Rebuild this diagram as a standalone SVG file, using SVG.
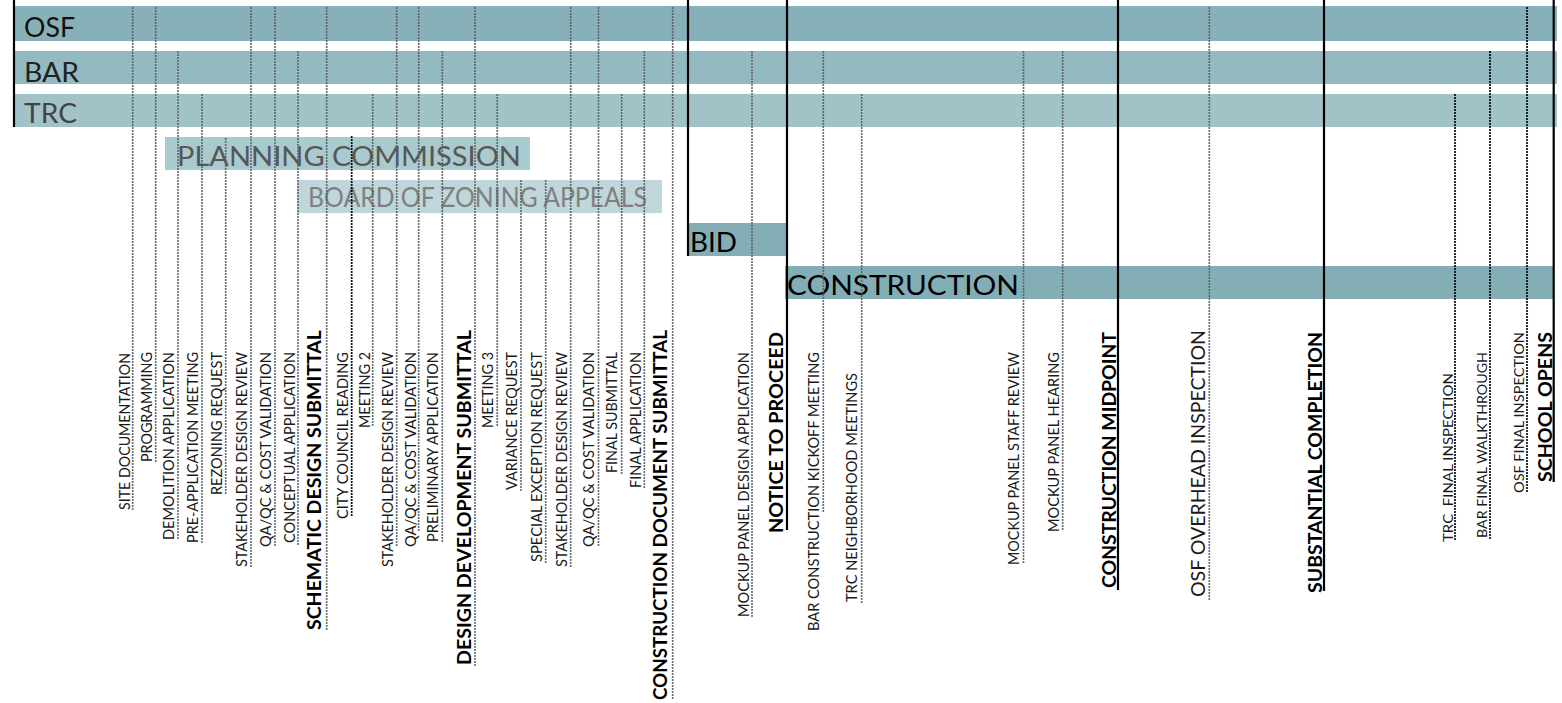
<svg xmlns="http://www.w3.org/2000/svg" width="1562" height="703" viewBox="0 0 1562 703">
<style>
.bg{fill:#ffffff}
.osf{fill:#87b0b8}
.bar{fill:#94bac1}
.trc{fill:#a1c3c8}
.pc{fill:#a9cacf}
.bza{fill:#bfd7db}
.bid{fill:#84aeb6}
.con{fill:#84aeb6}
.hd{font-family:Lato,"Liberation Sans",sans-serif;font-size:26px}
.lbl{font-family:Lato,"Liberation Sans",sans-serif;font-size:15px;fill:#1a1a1a}
.lblb{font-family:Lato,"Liberation Sans",sans-serif;font-size:19px;font-weight:700;fill:#000}
.lbls{font-family:Lato,"Liberation Sans",sans-serif;font-size:14px;fill:#1a1a1a}
.lblm{font-family:Lato,"Liberation Sans",sans-serif;font-size:19px;fill:#1a1a1a}
.dot{stroke:#5e5e5e;stroke-width:2;stroke-dasharray:0 3;stroke-linecap:round;fill:none}
.dotk{stroke:#000;stroke-width:2.2;stroke-dasharray:0 3;stroke-linecap:round;fill:none}
.solid{stroke:#000;stroke-width:2.2;fill:none}
</style>
<rect class="bg" x="0" y="0" width="1562" height="703"/>
<g id="lanes">
<g id="lane-osf"><rect class="osf" x="14" y="6" width="1543" height="35"/><text class="hd" x="24" y="37" fill="#111" textLength="51" lengthAdjust="spacingAndGlyphs">OSF</text></g>
<g id="lane-bar"><rect class="bar" x="14" y="51" width="1543" height="33"/><text class="hd" x="24" y="81.5" fill="#222" textLength="55" lengthAdjust="spacingAndGlyphs">BAR</text></g>
<g id="lane-trc"><rect class="trc" x="14" y="94" width="1543" height="33"/><text class="hd" x="24" y="122.5" fill="#444" textLength="53" lengthAdjust="spacingAndGlyphs">TRC</text></g>
<g id="lane-pc"><rect class="pc" x="165" y="137" width="365" height="33"/><text class="hd" x="177" y="166" font-size="27" fill="#575757" textLength="344" lengthAdjust="spacingAndGlyphs">PLANNING COMMISSION</text></g>
<g id="lane-bza"><rect class="bza" x="297" y="180" width="365" height="33"/><text class="hd" x="308" y="207" font-size="25" fill="#808080" textLength="339" lengthAdjust="spacingAndGlyphs">BOARD OF ZONING APPEALS</text></g>
<g id="lane-bid"><rect class="bid" x="688" y="223" width="98" height="33"/><text class="hd" x="690" y="252" font-size="25" fill="#000" textLength="47" lengthAdjust="spacingAndGlyphs">BID</text></g>
<g id="lane-construction"><rect class="con" x="785" y="266" width="769" height="33"/><text class="hd" x="787" y="295" font-size="27" fill="#000" textLength="232" lengthAdjust="spacingAndGlyphs">CONSTRUCTION</text></g>
</g>
<g id="connectors">
<line class="solid" x1="14" y1="0" x2="14" y2="127"/>
<line class="solid" x1="688" y1="0" x2="688" y2="256"/>
<line class="solid" x1="787" y1="0" x2="787" y2="530"/>
<line class="solid" x1="1118" y1="0" x2="1118" y2="590"/>
<line class="solid" x1="1324" y1="0" x2="1324" y2="591"/>
<line class="solid" x1="1553.7" y1="0" x2="1553.7" y2="482"/>
<line class="dot" x1="132.7" y1="8" x2="132.7" y2="510"/>
<line class="dot" x1="155.7" y1="8" x2="155.7" y2="462"/>
<line class="dot" x1="178" y1="52" x2="178" y2="540"/>
<line class="dot" x1="202" y1="95" x2="202" y2="543"/>
<line class="dot" x1="225.7" y1="139" x2="225.7" y2="496"/>
<line class="dot" x1="251" y1="8" x2="251" y2="567"/>
<line class="dot" x1="275" y1="8" x2="275" y2="547"/>
<line class="dot" x1="298" y1="52" x2="298" y2="545"/>
<line class="dot" x1="326.7" y1="8" x2="326.7" y2="630"/>
<line class="dotk" x1="351.7" y1="137" x2="351.7" y2="517"/>
<line class="dot" x1="372.7" y1="95" x2="372.7" y2="428"/>
<line class="dot" x1="396.7" y1="8" x2="396.7" y2="547"/>
<line class="dot" x1="418.7" y1="8" x2="418.7" y2="533"/>
<line class="dot" x1="442.3" y1="52" x2="442.3" y2="542"/>
<line class="dot" x1="475" y1="8" x2="475" y2="668"/>
<line class="dot" x1="497.2" y1="95" x2="497.2" y2="428"/>
<line class="dot" x1="521" y1="181" x2="521" y2="492"/>
<line class="dot" x1="545.7" y1="181" x2="545.7" y2="563"/>
<line class="dot" x1="570.7" y1="8" x2="570.7" y2="568"/>
<line class="dot" x1="598.5" y1="8" x2="598.5" y2="547"/>
<line class="dot" x1="621.7" y1="95" x2="621.7" y2="475"/>
<line class="dot" x1="644.3" y1="52" x2="644.3" y2="488"/>
<line class="dot" x1="672.7" y1="8" x2="672.7" y2="700"/>
<line class="dot" x1="752" y1="52" x2="752" y2="618"/>
<line class="dot" x1="823.3" y1="52" x2="823.3" y2="512"/>
<line class="dot" x1="861.7" y1="95" x2="861.7" y2="605"/>
<line class="dot" x1="1023.5" y1="52" x2="1023.5" y2="565"/>
<line class="dot" x1="1062.7" y1="52" x2="1062.7" y2="532"/>
<line class="dot" x1="1209.3" y1="8" x2="1209.3" y2="600"/>
<line class="dotk" x1="1455" y1="95" x2="1455" y2="542"/>
<line class="dotk" x1="1490" y1="52" x2="1490" y2="539"/>
<line class="dotk" x1="1527" y1="8" x2="1527" y2="493"/>
</g>
<g id="milestones">
<g id="m01"><text class="lbl" transform="translate(129.5,510) rotate(-90)" textLength="157" lengthAdjust="spacingAndGlyphs">SITE DOCUMENTATION</text></g>
<g id="m02"><text class="lbl" transform="translate(152,462) rotate(-90)" textLength="110" lengthAdjust="spacingAndGlyphs">PROGRAMMING</text></g>
<g id="m03"><text class="lbl" transform="translate(174.3,540) rotate(-90)" textLength="188" lengthAdjust="spacingAndGlyphs">DEMOLITION APPLICATION</text></g>
<g id="m04"><text class="lbl" transform="translate(198,543) rotate(-90)" textLength="191" lengthAdjust="spacingAndGlyphs">PRE-APPLICATION MEETING</text></g>
<g id="m05"><text class="lbl" transform="translate(222,495) rotate(-90)" textLength="143" lengthAdjust="spacingAndGlyphs">REZONING REQUEST</text></g>
<g id="m06"><text class="lbl" transform="translate(247,567) rotate(-90)" textLength="215" lengthAdjust="spacingAndGlyphs">STAKEHOLDER DESIGN REVIEW</text></g>
<g id="m07"><text class="lbl" transform="translate(271,547) rotate(-90)" textLength="195" lengthAdjust="spacingAndGlyphs">QA/QC &amp; COST VALIDATION</text></g>
<g id="m08"><text class="lbl" transform="translate(295,543) rotate(-90)" textLength="191" lengthAdjust="spacingAndGlyphs">CONCEPTUAL APPLICATION</text></g>
<g id="m09"><text class="lblb" transform="translate(320.7,630) rotate(-90)" textLength="300" lengthAdjust="spacingAndGlyphs">SCHEMATIC DESIGN SUBMITTAL</text></g>
<g id="m10"><text class="lbl" transform="translate(348,519) rotate(-90)" textLength="167" lengthAdjust="spacingAndGlyphs">CITY COUNCIL READING</text></g>
<g id="m11"><text class="lbl" transform="translate(370,428) rotate(-90)" textLength="76" lengthAdjust="spacingAndGlyphs">MEETING 2</text></g>
<g id="m12"><text class="lbl" transform="translate(393,567) rotate(-90)" textLength="215" lengthAdjust="spacingAndGlyphs">STAKEHOLDER DESIGN REVIEW</text></g>
<g id="m13"><text class="lbl" transform="translate(416,547) rotate(-90)" textLength="195" lengthAdjust="spacingAndGlyphs">QA/QC &amp; COST VALIDATION</text></g>
<g id="m14"><text class="lbl" transform="translate(438.3,542) rotate(-90)" textLength="190" lengthAdjust="spacingAndGlyphs">PRELIMINARY APPLICATION</text></g>
<g id="m15"><text class="lblb" transform="translate(470.7,665) rotate(-90)" textLength="335" lengthAdjust="spacingAndGlyphs">DESIGN DEVELOPMENT SUBMITTAL</text></g>
<g id="m16"><text class="lbl" transform="translate(493.3,428) rotate(-90)" textLength="76" lengthAdjust="spacingAndGlyphs">MEETING 3</text></g>
<g id="m17"><text class="lbl" transform="translate(516.7,490) rotate(-90)" textLength="138" lengthAdjust="spacingAndGlyphs">VARIANCE REQUEST</text></g>
<g id="m18"><text class="lbl" transform="translate(541.7,562) rotate(-90)" textLength="210" lengthAdjust="spacingAndGlyphs">SPECIAL EXCEPTION REQUEST</text></g>
<g id="m19"><text class="lbl" transform="translate(566.7,567) rotate(-90)" textLength="215" lengthAdjust="spacingAndGlyphs">STAKEHOLDER DESIGN REVIEW</text></g>
<g id="m20"><text class="lbl" transform="translate(594,547) rotate(-90)" textLength="195" lengthAdjust="spacingAndGlyphs">QA/QC &amp; COST VALIDATION</text></g>
<g id="m21"><text class="lbl" transform="translate(617,473) rotate(-90)" textLength="121" lengthAdjust="spacingAndGlyphs">FINAL SUBMITTAL</text></g>
<g id="m22"><text class="lbl" transform="translate(640.5,488) rotate(-90)" textLength="136" lengthAdjust="spacingAndGlyphs">FINAL APPLICATION</text></g>
<g id="m23"><text class="lblb" transform="translate(667.3,700) rotate(-90)" textLength="370" lengthAdjust="spacingAndGlyphs">CONSTRUCTION DOCUMENT SUBMITTAL</text></g>
<g id="m24"><text class="lbl" transform="translate(749,617) rotate(-90)" textLength="265" lengthAdjust="spacingAndGlyphs">MOCKUP PANEL DESIGN APPLICATION</text></g>
<g id="m25"><text class="lblb" transform="translate(782.7,533) rotate(-90)" textLength="201" lengthAdjust="spacingAndGlyphs">NOTICE TO PROCEED</text></g>
<g id="m26"><text class="lbl" transform="translate(819.3,631) rotate(-90)" textLength="279" lengthAdjust="spacingAndGlyphs">BAR CONSTRUCTION KICKOFF MEETING</text></g>
<g id="m27"><text class="lbl" transform="translate(857,602) rotate(-90)" textLength="229" lengthAdjust="spacingAndGlyphs">TRC NEIGHBORHOOD MEETINGS</text></g>
<g id="m28"><text class="lbl" transform="translate(1019.3,565) rotate(-90)" textLength="213" lengthAdjust="spacingAndGlyphs">MOCKUP PANEL STAFF REVIEW</text></g>
<g id="m29"><text class="lbl" transform="translate(1058.5,532) rotate(-90)" textLength="180" lengthAdjust="spacingAndGlyphs">MOCKUP PANEL HEARING</text></g>
<g id="m30"><text class="lblb" transform="translate(1116,588) rotate(-90)" textLength="256" lengthAdjust="spacingAndGlyphs">CONSTRUCTION MIDPOINT</text></g>
<g id="m31"><text class="lblm" transform="translate(1205,597) rotate(-90)" textLength="267" lengthAdjust="spacingAndGlyphs">OSF OVERHEAD INSPECTION</text></g>
<g id="m32"><text class="lblb" transform="translate(1321.7,593) rotate(-90)" textLength="261" lengthAdjust="spacingAndGlyphs">SUBSTANTIAL COMPLETION</text></g>
<g id="m33"><text class="lbls" xml:space="preserve" transform="translate(1453.3,542) rotate(-90)" textLength="169" lengthAdjust="spacingAndGlyphs">TRC  FINAL INSPECTION</text></g>
<g id="m34"><text class="lbls" transform="translate(1487.3,538) rotate(-90)" textLength="186" lengthAdjust="spacingAndGlyphs">BAR FINAL WALKTHROUGH</text></g>
<g id="m35"><text class="lbls" transform="translate(1524.3,493) rotate(-90)" textLength="161" lengthAdjust="spacingAndGlyphs">OSF FINAL INSPECTION</text></g>
<g id="m36"><text class="lblb" transform="translate(1551.5,482) rotate(-90)" textLength="150" lengthAdjust="spacingAndGlyphs">SCHOOL OPENS</text></g>
</g>
</svg>
